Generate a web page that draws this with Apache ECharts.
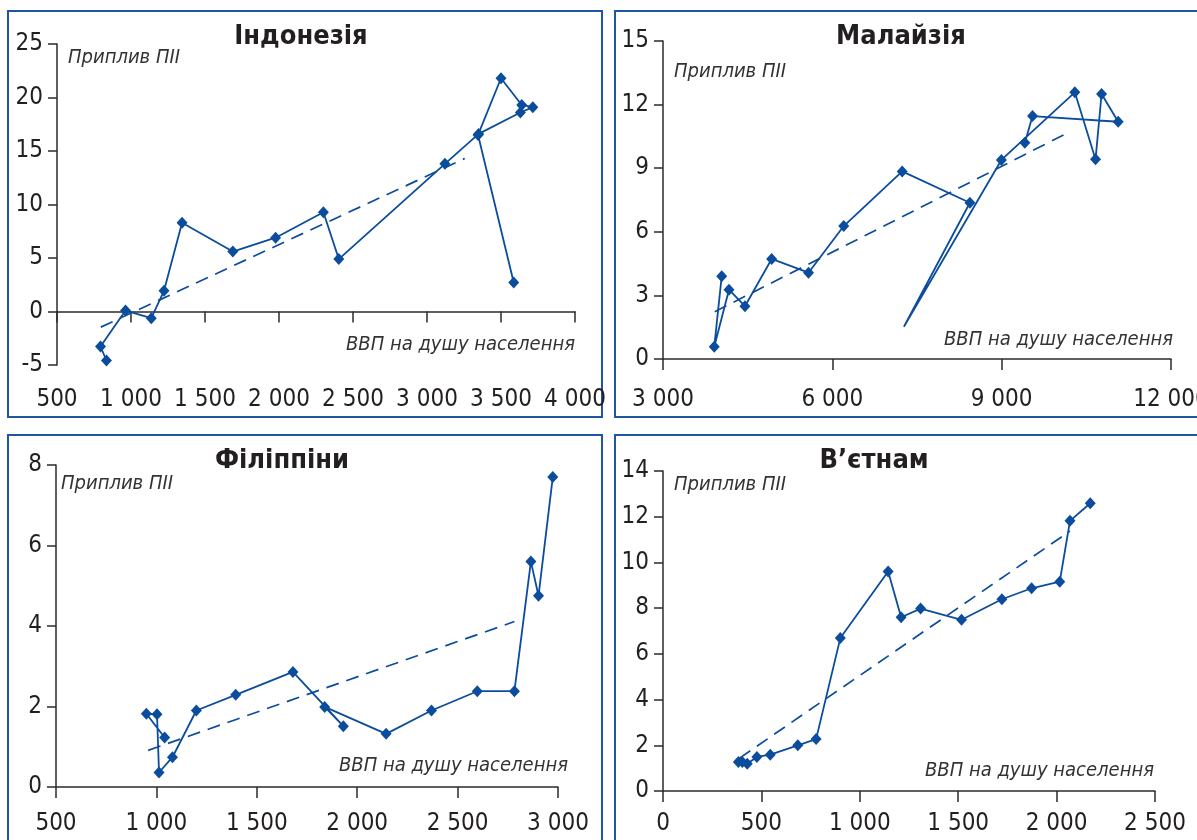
<!DOCTYPE html>
<html>
<head>
<meta charset="utf-8">
<script src="https://cdn.jsdelivr.net/npm/echarts@6/dist/echarts.min.js"></script>
<style>
  html, body { margin: 0; padding: 0; background: #fff; }
  #chart { width: 1197px; height: 840px; }
</style>
</head>
<body>
<div id="chart"></div>
<script>
// Індонезія
var idnGdp = [834, 794, 963, 1137, 1223, 1345, 1688, 1977, 2300, 2404, 3121, 3349, 3631, 3715, 3640, 3500, 3345, 3586];
var idnFdi = [-4.58, -3.27, 0.09, -0.62, 1.93, 8.3, 5.6, 6.9, 9.28, 4.9, 13.8, 16.6, 18.6, 19.1, 19.3, 21.8, 16.5, 2.71];
var idnTrendGdp = [796, 3255];
var idnTrendFdi = [-1.46, 14.3];
var idnXTicks = [500, 4000, 500];
var idnYTicks = [-5, 25, 5];

// Малайзія (10-та точка без маркера)
var mysGdp = [4040, 3908, 4169, 4452, 4925, 5578, 6202, 7238, 8437, 7268, 8995, 10296, 10663, 10770, 11064, 9547, 9411];
var mysFdi = [3.90, 0.58, 3.27, 2.49, 4.72, 4.07, 6.27, 8.85, 7.37, 1.52, 9.39, 12.58, 9.42, 12.5, 11.19, 11.46, 10.2];
var mysNoMarker = [9];
var mysTrendGdp = [3917, 10186];
var mysTrendFdi = [2.23, 10.69];
var mysXTicks = [3000, 12000, 3000];
var mysYTicks = [0, 15, 3];

// Філіппіни
var phlGdp = [1041, 950, 1003, 1013, 1080, 1199, 1395, 1680, 1931, 1838, 2144, 2370, 2598, 2783, 2865, 2903, 2974];
var phlFdi = [1.23, 1.82, 1.81, 0.36, 0.74, 1.90, 2.29, 2.86, 1.51, 1.99, 1.32, 1.90, 2.38, 2.38, 5.60, 4.75, 7.70];
var phlTrendGdp = [959, 2783];
var phlTrendFdi = [0.91, 4.11];
var phlXTicks = [500, 3000, 500];
var phlYTicks = [0, 8, 2];

// В’єтнам
var vnmGdp = [383, 403, 428, 477, 545, 685, 778, 901, 1144, 1210, 1309, 1517, 1722, 1873, 2016, 2068, 2171];
var vnmFdi = [1.27, 1.27, 1.19, 1.49, 1.59, 2.0, 2.27, 6.69, 9.60, 7.60, 7.98, 7.49, 8.39, 8.87, 9.16, 11.82, 12.59];
var vnmTrendGdp = [389, 2068];
var vnmTrendFdi = [1.44, 11.37];
var vnmXTicks = [0, 2500, 500];
var vnmYTicks = [0, 14, 2];

var yName = "Приплив ПІІ";
var xName = "ВВП на душу населення";

var FONT = "'Liberation Sans Narrow', 'DejaVu Sans Condensed', 'Liberation Sans', sans-serif";
var LINE = "#0b4d9c";
var AXIS = "#2b2b2b";
var BORDER = "#1f56a0";

var panels = [
  {
    title: "Індонезія", gdp: idnGdp, fdi: idnFdi, tGdp: idnTrendGdp, tFdi: idnTrendFdi,
    xt: idnXTicks, yt: idnYTicks, noMarker: [],
    grid: { left: 57, top: 44, width: 518, height: 321 }, labelMargin: 35,
    box: [8, 11, 594, 406], titleXY: [301, 37],
    yNameXY: [68, 58], xNameXY: [575, 345]
  },
  {
    title: "Малайзія", gdp: mysGdp, fdi: mysFdi, tGdp: mysTrendGdp, tFdi: mysTrendFdi,
    xt: mysXTicks, yt: mysYTicks, noMarker: mysNoMarker,
    grid: { left: 663, top: 41, width: 508, height: 318 }, labelMargin: 41,
    box: [615, 11, 600, 406], titleXY: [901, 37],
    yNameXY: [674, 72], xNameXY: [1173, 340]
  },
  {
    title: "Філіппіни", gdp: phlGdp, fdi: phlFdi, tGdp: phlTrendGdp, tFdi: phlTrendFdi,
    xt: phlXTicks, yt: phlYTicks, noMarker: [],
    grid: { left: 56, top: 465, width: 502, height: 322 }, labelMargin: 37,
    box: [8, 435, 594, 420], titleXY: [282, 461],
    yNameXY: [61, 484], xNameXY: [568, 766]
  },
  {
    title: "В’єтнам", gdp: vnmGdp, fdi: vnmFdi, tGdp: vnmTrendGdp, tFdi: vnmTrendFdi,
    xt: vnmXTicks, yt: vnmYTicks, noMarker: [],
    grid: { left: 663, top: 471, width: 492, height: 320 }, labelMargin: 33,
    box: [615, 435, 600, 420], titleXY: [874, 461],
    yNameXY: [674, 485], xNameXY: [1154, 771]
  }
];

function thousands(v) {
  return String(v).replace(/\B(?=(\d{3})+(?!\d))/g, " ");
}

var grids = [], xAxes = [], yAxes = [], series = [], graphics = [];

panels.forEach(function (p, g) {
  grids.push({
    left: p.grid.left, top: p.grid.top, width: p.grid.width, height: p.grid.height,
    outerBoundsMode: "none", containLabel: false
  });
  // axis line + ticks, crossing at zero
  xAxes.push({
    type: "value", gridIndex: g, min: p.xt[0], max: p.xt[1], interval: p.xt[2],
    axisLine: { show: true, onZero: true, lineStyle: { color: AXIS, width: 1.5 } },
    axisTick: { show: true, length: 11, lineStyle: { color: AXIS, width: 1.5 } },
    axisLabel: { show: false },
    splitLine: { show: false }
  });
  // labels only, along the bottom
  xAxes.push({
    type: "value", gridIndex: g, position: "bottom", min: p.xt[0], max: p.xt[1], interval: p.xt[2],
    axisLine: { show: false, onZero: false },
    axisTick: { show: false },
    splitLine: { show: false },
    axisLabel: {
      margin: p.labelMargin, verticalAlign: "middle", fontSize: 24, fontFamily: FONT, color: "#231f20",
      formatter: thousands
    }
  });
  yAxes.push({
    type: "value", gridIndex: g, min: p.yt[0], max: p.yt[1], interval: p.yt[2],
    axisLine: { show: true, onZero: false, lineStyle: { color: AXIS, width: 1.5 } },
    axisTick: { show: true, length: 9, lineStyle: { color: AXIS, width: 1.5 } },
    splitLine: { show: false },
    axisLabel: { margin: 14, fontSize: 24, fontFamily: FONT, color: "#231f20" }
  });

  var pts = p.gdp.map(function (x, i) {
    var item = { value: [x, p.fdi[i]] };
    if (p.noMarker.indexOf(i) >= 0) item.symbol = "none";
    return item;
  });
  series.push({
    type: "line", xAxisIndex: 2 * g, yAxisIndex: g, data: pts,
    symbol: "diamond", symbolSize: [11, 12], showSymbol: true,
    lineStyle: { color: LINE, width: 1.8 }, itemStyle: { color: LINE },
    z: 3, animation: false
  });
  series.push({
    type: "line", xAxisIndex: 2 * g, yAxisIndex: g,
    data: p.tGdp.map(function (x, i) { return [x, p.tFdi[i]]; }),
    symbol: "none",
    lineStyle: { color: LINE, width: 1.7, type: [13, 8] },
    z: 2, animation: false
  });

  graphics.push({
    type: "rect", silent: true,
    shape: { x: p.box[0], y: p.box[1], width: p.box[2], height: p.box[3] },
    style: { fill: null, stroke: BORDER, lineWidth: 2 }
  });
  graphics.push({
    type: "text", x: p.titleXY[0], y: p.titleXY[1],
    style: { text: p.title, font: "bold 27px " + FONT, fill: "#231f20", textAlign: "center", textVerticalAlign: "middle" }
  });
  graphics.push({
    type: "text", x: p.yNameXY[0], y: p.yNameXY[1],
    style: { text: yName, font: "italic 20px " + FONT, fill: "#333", textAlign: "left", textVerticalAlign: "middle" }
  });
  graphics.push({
    type: "text", x: p.xNameXY[0], y: p.xNameXY[1],
    style: { text: xName, font: "italic 20px " + FONT, fill: "#333", textAlign: "right", textVerticalAlign: "middle" }
  });
});

var chart = echarts.init(document.getElementById("chart"), null, { renderer: "canvas" });
chart.setOption({
  animation: false,
  backgroundColor: "#ffffff",
  grid: grids,
  xAxis: xAxes,
  yAxis: yAxes,
  series: series,
  graphic: graphics
});
</script>
</body>
</html>
